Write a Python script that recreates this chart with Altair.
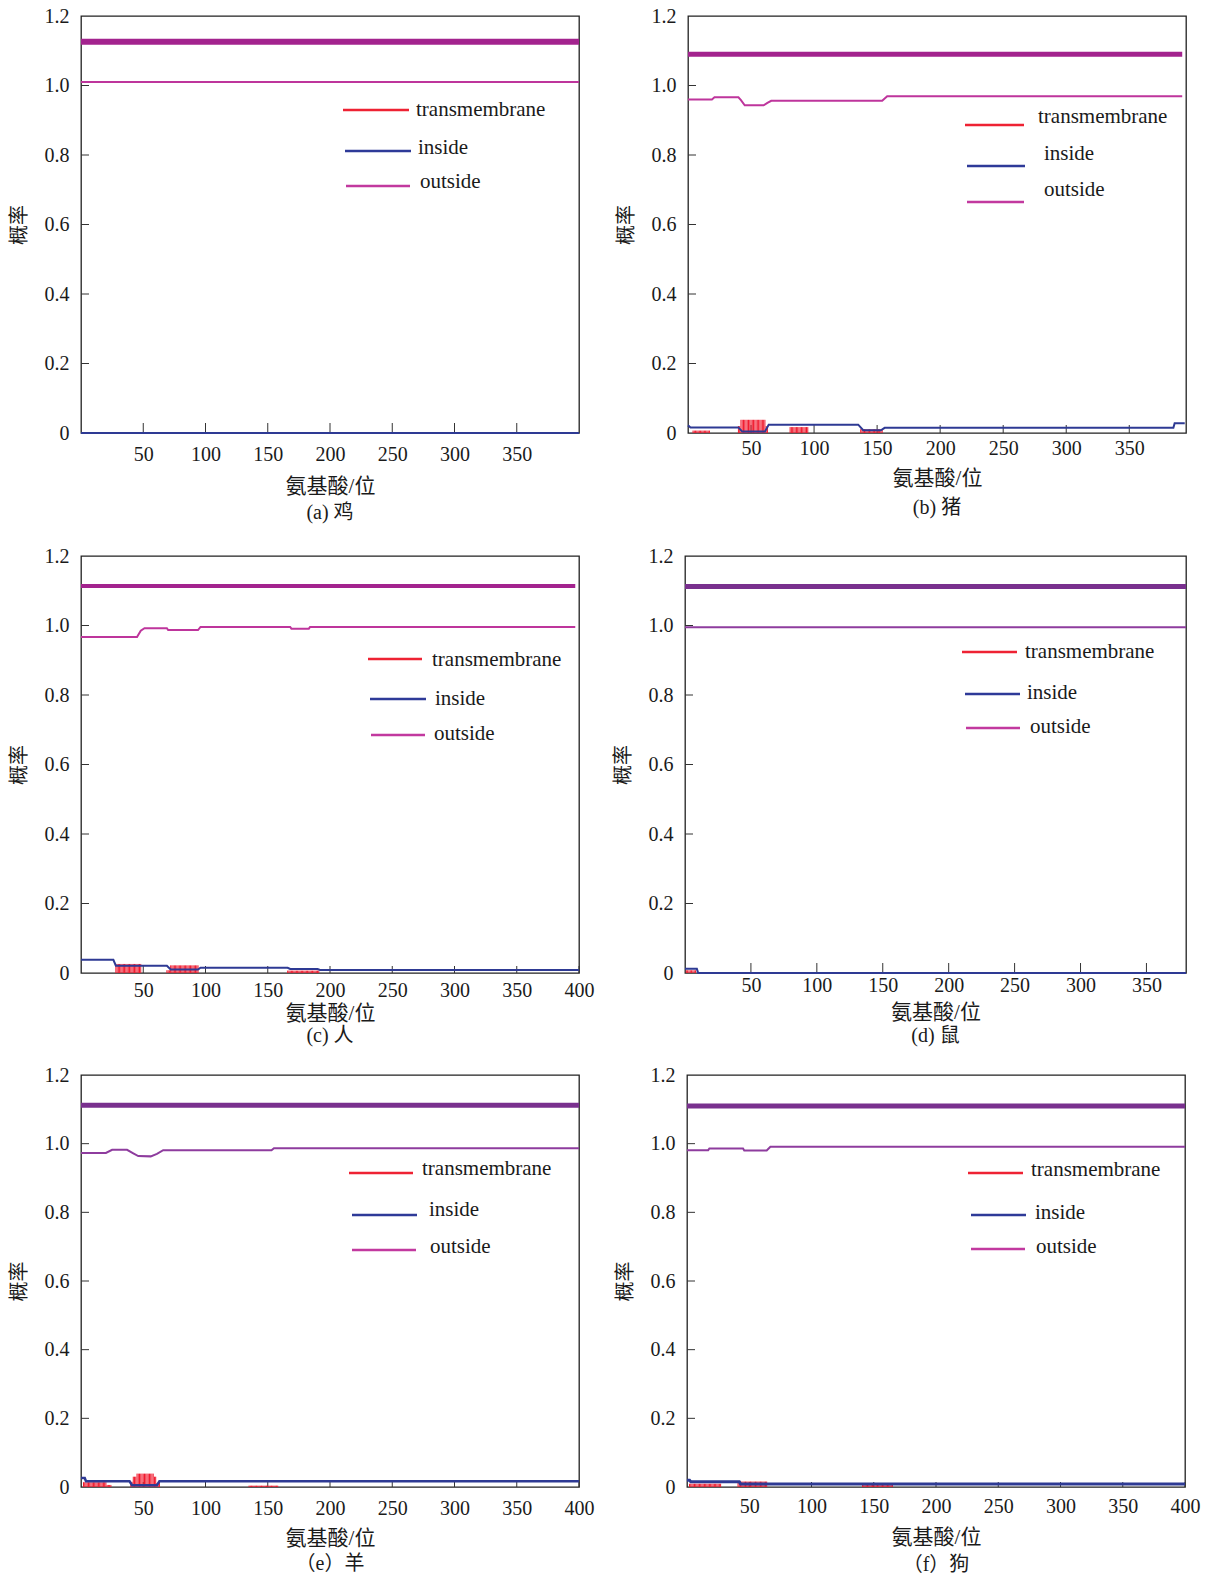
import altair as alt
import pandas as pd

FONT = "Liberation Serif, Noto Sans CJK SC"
INK = "#1a1a1a"
TICK = "#333333"

TM_RED = "#F0182C"
IN_BLUE = "#2E3A94"
OUT_MAG = "#BE359C"
OUT_PUR = "#8E3C9E"
TOPO_MAG = "#A3238E"
TOPO_PUR = "#79308E"
LEG_COLORS = ["#EE2233", "#2E3A98", "#C2399F"]
LEG_LABELS = ["transmembrane", "inside", "outside"]

Y_TICKS = [0, 0.2, 0.4, 0.6, 0.8, 1.0, 1.2]
X_TICKS_7 = [50, 100, 150, 200, 250, 300, 350]
X_TICKS_8 = [50, 100, 150, 200, 250, 300, 350, 400]

# (a) 鸡 -- (start, end, level) of the topology bar, (pos, prob) points, (start, end, prob) TM segments
A_RANGE = [0, 400]
A_TOPOLOGY = (0, 400, 1.126)
A_OUTSIDE = [(0, 1.01), (400, 1.01)]
A_INSIDE = [(0, 0.0), (400, 0.0)]
A_TM = []

# (b) 猪
B_RANGE = [0, 395]
B_TOPOLOGY = (0, 392, 1.09)
B_OUTSIDE = [(0, 0.960), (19, 0.960), (21, 0.966), (40, 0.966), (42, 0.958), (45, 0.943),
             (60, 0.943), (63, 0.950), (66, 0.956), (154, 0.956), (158, 0.969), (392, 0.969)]
B_INSIDE = [(0, 0.022), (2, 0.016), (40, 0.016), (43, 0.004), (61, 0.004), (64, 0.024),
            (135, 0.024), (139, 0.008), (153, 0.008), (156, 0.015), (385, 0.015), (386, 0.028),
            (394, 0.028)]
B_TM = [(4, 17, 0.007), (40, 41, 0.02), (42, 61, 0.038), (62, 63, 0.02), (81, 95, 0.017),
        (137, 154, 0.011)]

# (c) 人
C_RANGE = [0, 400]
C_TOPOLOGY = (0, 397, 1.114)
C_OUTSIDE = [(0, 0.967), (45, 0.967), (48, 0.985), (51, 0.992), (69, 0.992), (70, 0.987),
             (94, 0.987), (96, 0.996), (168, 0.996), (169, 0.991), (183, 0.991), (184, 0.996),
             (397, 0.996)]
C_INSIDE = [(0, 0.038), (26, 0.038), (28, 0.021), (69, 0.021), (72, 0.010), (94, 0.010),
            (96, 0.015), (166, 0.015), (168, 0.0115), (190, 0.0115), (192, 0.0085), (400, 0.0085)]
C_TM = [(28, 48, 0.026), (69, 71, 0.008), (72, 94, 0.022), (166, 191, 0.007)]

# (d) 鼠
D_RANGE = [0, 380]
D_TOPOLOGY = (0, 380, 1.112)
D_OUTSIDE = [(0, 0.995), (380, 0.995)]
D_INSIDE = [(0, 0.012), (9, 0.012), (10, 0.0), (380, 0.0)]
D_TM = [(1, 8, 0.008)]

# (e) 羊
E_RANGE = [0, 400]
E_TOPOLOGY = (0, 400, 1.112)
E_OUTSIDE = [(0, 0.973), (20, 0.973), (25, 0.982), (37, 0.982), (42, 0.972), (46, 0.964),
             (56, 0.963), (61, 0.970), (66, 0.981), (153, 0.981), (155, 0.987), (400, 0.987)]
E_INSIDE = [(0, 0.026), (3, 0.026), (4, 0.0166), (39, 0.0166), (41, 0.005), (61, 0.005),
            (63, 0.0166), (400, 0.0166)]
E_TM = [(2, 20, 0.014), (21, 24, 0.006), (40, 41, 0.015), (42, 44, 0.03), (45, 58, 0.039),
        (59, 60, 0.03), (61, 63, 0.012), (135, 158, 0.004)]

# (f) 狗
F_RANGE = [0, 400]
F_TOPOLOGY = (0, 400, 1.110)
F_OUTSIDE = [(0, 0.981), (17, 0.981), (18, 0.986), (45, 0.986), (46, 0.980), (64, 0.980),
             (67, 0.991), (400, 0.991)]
F_INSIDE = [(0, 0.020), (2, 0.020), (3, 0.0154), (42, 0.0154), (43, 0.0087), (400, 0.0087)]
F_TM = [(2, 27, 0.0096), (41, 64, 0.016), (141, 165, 0.007)]


def points(pts):
    return pd.DataFrame(pts, columns=["pos", "val"])


def impulses(segments):
    rows = [(p, h, 0.0) for s, e, h in segments for p in range(s, e + 1)]
    return pd.DataFrame(rows, columns=["pos", "val", "base"])


ONE_ROW = pd.DataFrame({"k": [0]})


def panel(rng, xticks, topo, outside, inside, tm, *, caption, width, height,
          topo_color, topo_width, out_color, in_width, legend,
          xlab_pad, xtitle_pad, cap_offset, xtick_len, ylab_pad=12, ytitle_pad=15):
    xs = alt.Scale(domain=rng, nice=False, zero=False)
    ys = alt.Scale(domain=[0, 1.2], nice=False, zero=False)
    xaxis = alt.Axis(values=xticks, ticks=False, tickSize=0, domain=False, grid=False,
                     labelFont=FONT, labelFontSize=20, labelColor=INK, labelPadding=xlab_pad,
                     labelFlush=False, labelOverlap=False, labelBound=False,
                     title="氨基酸/位", titleFont=FONT, titleFontSize=21,
                     titleFontWeight="normal", titleColor=INK, titlePadding=xtitle_pad)
    yaxis = alt.Axis(values=Y_TICKS, ticks=False, tickSize=0, domain=False, grid=False,
                     labelExpr="datum.value == 0 ? '0' : format(datum.value, '.1f')",
                     labelFont=FONT, labelFontSize=20, labelColor=INK, labelPadding=ylab_pad,
                     labelFlush=False, labelOverlap=False,
                     title="概率", titleFont=FONT, titleFontSize=20,
                     titleFontWeight="normal", titleColor=INK, titlePadding=ytitle_pad)

    def X(f):
        return alt.X(f"{f}:Q", scale=xs, axis=xaxis)

    def Y(f):
        return alt.Y(f"{f}:Q", scale=ys, axis=yaxis)

    layers = []
    # inner tick marks
    layers.append(alt.Chart(pd.DataFrame({"val": Y_TICKS[1:-1]})).mark_rule(
        color=TICK, strokeWidth=1).encode(y=Y("val"), x=alt.value(0), x2=alt.value(8)))
    layers.append(alt.Chart(pd.DataFrame({"pos": xticks})).mark_rule(
        color=TICK, strokeWidth=1).encode(x=X("pos"), y=alt.value(height),
                                          y2=alt.value(height - xtick_len)))
    if tm:
        layers.append(alt.Chart(impulses(tm)).mark_rule(color=TM_RED, strokeWidth=1.0).encode(
            x=X("pos"), y=Y("val"), y2=alt.Y2("base:Q")))
    layers.append(alt.Chart(points(inside)).mark_line(color=IN_BLUE, strokeWidth=in_width).encode(
        x=X("pos"), y=Y("val")))
    layers.append(alt.Chart(points(outside)).mark_line(color=out_color, strokeWidth=2).encode(
        x=X("pos"), y=Y("val")))
    t0, t1, tv = topo
    layers.append(alt.Chart(pd.DataFrame({"pos": [t0], "end": [t1], "val": [tv]})).mark_rule(
        color=topo_color, strokeWidth=topo_width).encode(x=X("pos"), x2=alt.X2("end:Q"), y=Y("val")))

    # legend: sample lines and labels
    for (x0, x1, ly), (tx, ty), lab, col in zip(legend["sym"], legend["txt"], LEG_LABELS, LEG_COLORS):
        layers.append(alt.Chart(ONE_ROW).mark_rule(color=col, strokeWidth=2.5).encode(
            x=alt.value(x0), x2=alt.value(x1), y=alt.value(ly)))
        layers.append(alt.Chart(ONE_ROW).mark_text(
            align="left", baseline="middle", font=FONT, fontSize=21, color=INK).encode(
            x=alt.value(tx), y=alt.value(ty), text=alt.value(lab)))

    return alt.layer(*layers).properties(
        width=width, height=height,
        title=alt.TitleParams(caption, orient="bottom", anchor="middle", frame="group",
                              font=FONT, fontSize=20, fontWeight="normal", color=INK,
                              offset=cap_offset))


pa = panel(A_RANGE, X_TICKS_7, A_TOPOLOGY, A_OUTSIDE, A_INSIDE, A_TM,
           caption="(a) 鸡", width=498, height=417, topo_color=TOPO_MAG, topo_width=6,
           out_color=OUT_MAG, in_width=2,
           legend={"sym": [(262, 328, 94), (264, 330, 135), (265, 329, 170)],
                   "txt": [(335, 94), (337, 132), (339, 166)]},
           xlab_pad=11, xtitle_pad=11, cap_offset=7, xtick_len=10)
pb = panel(B_RANGE, X_TICKS_7, B_TOPOLOGY, B_OUTSIDE, B_INSIDE, B_TM,
           caption="(b) 猪", width=498, height=417, topo_color=TOPO_MAG, topo_width=5,
           out_color=OUT_MAG, in_width=2,
           legend={"sym": [(277, 336, 109), (279, 337, 150), (279, 336, 186)],
                   "txt": [(350, 101), (356, 138), (356, 174)]},
           xlab_pad=5, xtitle_pad=9, cap_offset=10, xtick_len=8)
pc = panel(C_RANGE, X_TICKS_8, C_TOPOLOGY, C_OUTSIDE, C_INSIDE, C_TM,
           caption="(c) 人", width=498, height=417, topo_color=TOPO_MAG, topo_width=4,
           out_color=OUT_MAG, in_width=2,
           legend={"sym": [(287, 341, 103), (289, 345, 143), (290, 344, 179)],
                   "txt": [(351, 104), (354, 143), (353, 178)]},
           xlab_pad=7, xtitle_pad=2, cap_offset=3, xtick_len=7)
pd_ = panel(D_RANGE, X_TICKS_7, D_TOPOLOGY, D_OUTSIDE, D_INSIDE, D_TM,
            caption="(d) 鼠", width=501, height=417, topo_color=TOPO_PUR, topo_width=5,
            out_color=OUT_PUR, in_width=2,
            legend={"sym": [(277, 332, 96), (280, 335, 138), (281, 335, 172)],
                    "txt": [(340, 96), (342, 137), (345, 171)]},
            xlab_pad=2, xtitle_pad=6, cap_offset=4, xtick_len=10)
pe = panel(E_RANGE, X_TICKS_8, E_TOPOLOGY, E_OUTSIDE, E_INSIDE, E_TM,
           caption="（e）羊", width=498, height=412, topo_color=TOPO_PUR, topo_width=5,
           out_color=OUT_PUR, in_width=2.5,
           legend={"sym": [(268, 332, 98), (271, 336, 140), (271, 335, 175)],
                   "txt": [(341, 94), (348, 135), (349, 172)]},
           xlab_pad=11, xtitle_pad=9, cap_offset=6, xtick_len=5)
pf = panel(F_RANGE, X_TICKS_8, F_TOPOLOGY, F_OUTSIDE, F_INSIDE, F_TM,
           caption="（f）狗", width=498, height=412, topo_color=TOPO_PUR, topo_width=5,
           out_color=OUT_PUR, in_width=3,
           legend={"sym": [(281, 336, 98), (284, 339, 140), (284, 338, 174)],
                   "txt": [(344, 95), (348, 138), (349, 172)]},
           xlab_pad=9, xtitle_pad=10, cap_offset=8, xtick_len=5)

row1 = alt.hconcat(pa, pb, spacing=109, bounds="flush")
row2 = alt.hconcat(pc, pd_, spacing=106, bounds="flush")
row3 = alt.hconcat(pe, pf, spacing=108, bounds="flush")

top_rows = alt.vconcat(row1, row2, spacing=21)
chart = alt.vconcat(top_rows, row3, spacing=17).properties(
    padding={"left": 8, "top": 5, "right": 5, "bottom": 5},
    background="white",
).configure_view(stroke="#222222", strokeWidth=1.3)

chart.save("out.html", embed_options={"renderer": "svg", "actions": False})
